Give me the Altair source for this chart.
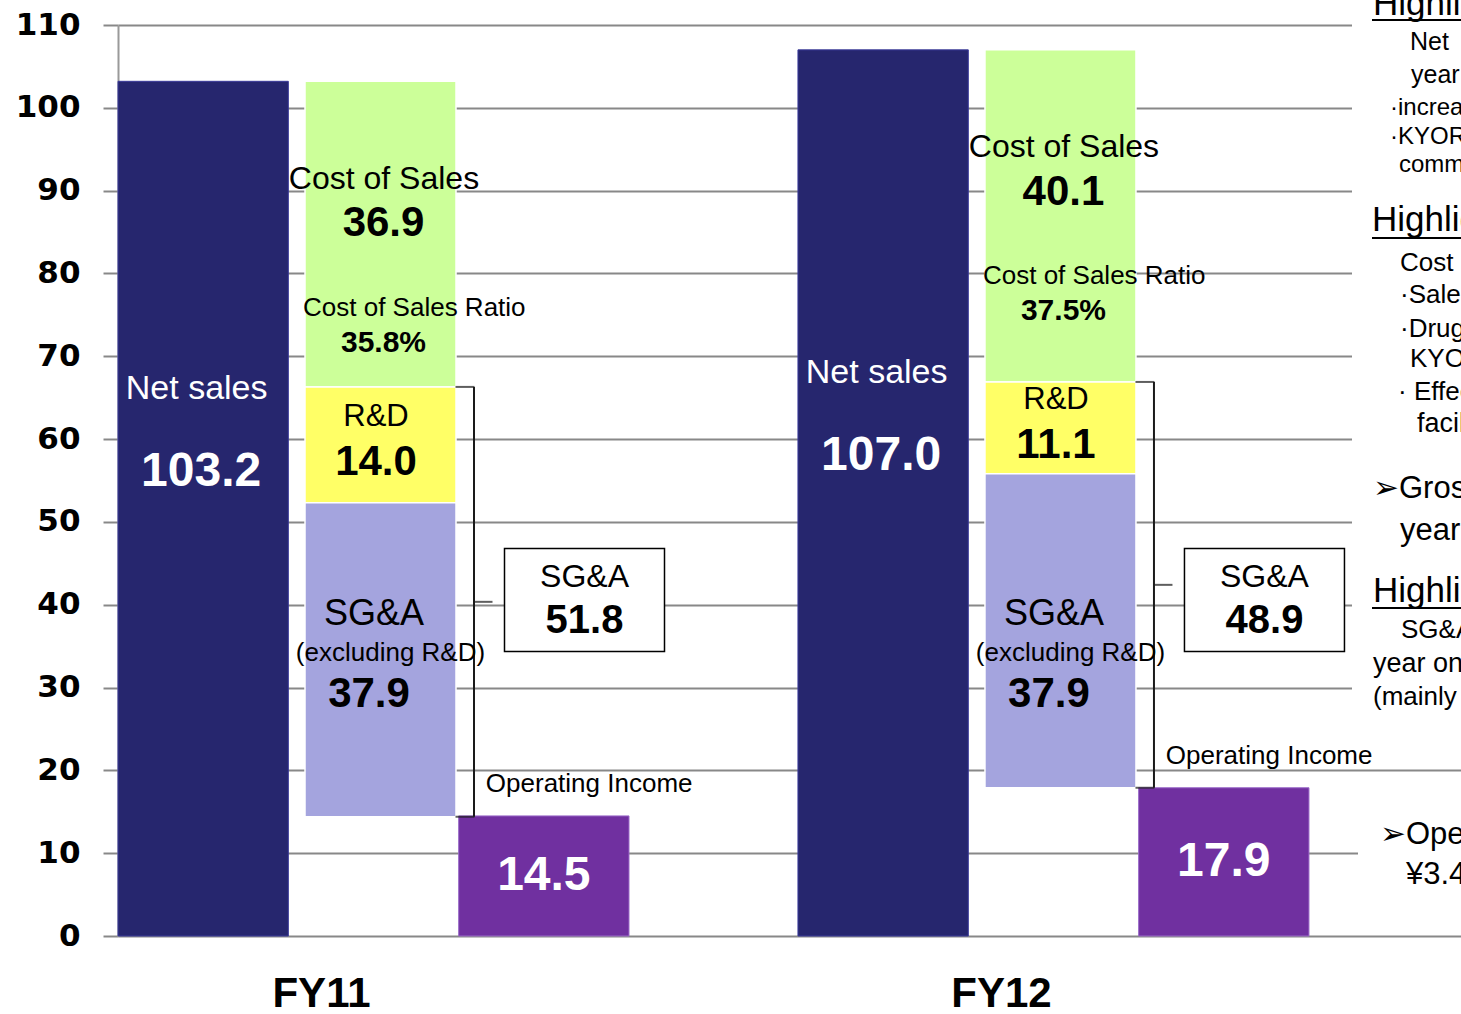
import altair as alt
import pandas as pd

# ---------------- data ----------------
years = ["FY11", "FY12"]
net_sales = [103.2, 107.0]
cost_of_sales = [36.9, 40.1]
r_and_d = [14.0, 11.1]
sga_excl_rd = [37.9, 37.9]
sga_total = [51.8, 48.9]
operating_income = [14.5, 17.9]
y_ticks = list(range(0, 111, 10))
components = ["Net sales", "Costs", "Operating income"]
segments = ["Cost of Sales", "R&D", "SG&A"]

# cropped text panel on the right of the slide
panel_text = ["Highlights", "Net", "year on year", "·increase", "·KYORIN", "commission",
              "Highlights", "Cost of Sales", "·Sales", "·Drug", "KYORIN", "· Effect", "facilities",
              "➢Gross", "year on year", "Highlights", "SG&A", "year on year", "(mainly",
              "➢Operating", "¥3.4"]
# (left px, centre px, font size) of each panel line
panel_layout = [(1373, 4, 35), (1410, 42, 25), (1411, 75, 25), (1390, 108, 24), (1390, 137, 24),
                (1399, 165, 24), (1372, 220, 35), (1400, 263, 26), (1400, 295, 26), (1400, 329, 26),
                (1410, 359, 26), (1398, 392, 26), (1417, 424, 27), (1373, 489, 31), (1400, 531, 31),
                (1373, 591, 35), (1401, 630, 26), (1373, 664, 27), (1373, 697, 26), (1380, 835, 31),
                (1406, 875, 31)]
underlines = [20, 238, 608]

# ---------------- styles ----------------
SANS = "Liberation Sans"
NAVY = "#26266E"
SEG_COLORS = ["#CCFF99", "#FFFF66", "#A4A4DE"]
PURPLE = "#7030A0"
PLOT_L, PLOT_T, W, H = 118, 25, 1343, 911
HALF = 255.5  # half of a year band: value offsets count from the band start

# ---------------- tables ----------------
df = pd.DataFrame({
    "year": years, "net": net_sales, "cost": cost_of_sales, "rd": r_and_d,
    "sga": sga_excl_rd, "sga_total": sga_total, "op": operating_income,
})
df["cost_bottom"] = df.net - df.cost
df["rd_bottom"] = df.cost_bottom - df.rd
df["sga_bottom"] = df.rd_bottom - df.sga
df["net_mid"] = df.net / 2
df["rd_mid"] = (df.cost_bottom + df.rd_bottom) / 2
df["op_mid"] = df.op / 2
df["brace_mid"] = (df.cost_bottom + df.sga_bottom) / 2
df["box_mid"] = df.sga + 2.67
df["box_top"] = df.box_mid + 6.22
df["box_bottom"] = df.box_mid - 6.22
df["net_lbl"] = df.net.map("{:.1f}".format)
df["cost_lbl"] = df.cost.map("{:.1f}".format)
df["ratio_lbl"] = (df.cost / df.net * 100).map("{:.1f}%".format)
df["rd_lbl"] = df.rd.map("{:.1f}".format)
df["sga_lbl"] = df.sga.map("{:.1f}".format)
df["sga_total_lbl"] = df.sga_total.map("{:.1f}".format)
df["op_lbl"] = df.op.map("{:.1f}".format)

rows = []
for i, yr in enumerate(years):
    top = net_sales[i]
    for name, val in zip(segments, [cost_of_sales[i], r_and_d[i], sga_excl_rd[i]]):
        rows.append({"year": yr, "seg": name, "top": top, "bottom": top - val})
        top -= val
seg_df = pd.DataFrame(rows)

net_df = df.assign(comp="Net sales")
op_df = df.assign(comp="Operating income")
one = pd.DataFrame({"k": [0]})

# ---------------- encodings ----------------
X = alt.X(
    "year:N",
    scale=alt.Scale(domain=years, paddingInner=0.2485, paddingOuter=0.1118, align=0),
    axis=alt.Axis(title=None, domain=False, ticks=False, grid=False, labelAngle=0,
                  labelFont=SANS, labelFontSize=42, labelFontWeight="bold", labelColor="black",
                  labelPadding=37, labelOffset=-52),
)
XO = alt.XOffset("comp:N", scale=alt.Scale(domain=components, paddingInner=0, paddingOuter=0))
YAXIS = alt.Axis(values=y_ticks, title=None, grid=True, gridColor="#888888", gridWidth=2,
                 tickSize=15, tickColor="#888888", tickWidth=2, domainColor="#9a9a9a",
                 domainWidth=2, labelFont="DejaVu Sans", labelFontSize=31,
                 labelFontWeight="bold", labelColor="black", labelPadding=23)


def Y(field):
    return alt.Y(f"{field}:Q", scale=alt.Scale(domain=[0, 110], nice=False, zero=False),
                 axis=YAXIS, title=None)


def off(v):
    return alt.value(HALF + v)


def label(data, text, yfield, size, dy=0, xoff=None, comp=False, dx=0,
          weight="normal", color="black", align="center"):
    enc = {"x": X, "y": Y(yfield), "text": text}
    enc["xOffset"] = XO if comp else off(xoff)
    return alt.Chart(data).mark_text(
        font=SANS, fontSize=size, fontWeight=weight, color=color, dx=dx, dy=dy,
        align=align, baseline="middle").encode(**enc)


layers = []

# bars
layers.append(alt.Chart(net_df).mark_bar(color=NAVY, stroke="#3a3a9a", strokeWidth=1)
              .encode(x=X, xOffset=XO, y=Y("net")))
layers.append(alt.Chart(seg_df).mark_bar(width=151, stroke="white", strokeWidth=1.5)
              .encode(x=X, xOffset=off(7), y=Y("top"), y2=alt.Y2("bottom"),
                      color=alt.Color("seg:N", scale=alt.Scale(domain=segments, range=SEG_COLORS),
                                      legend=None)))
layers.append(alt.Chart(op_df).mark_bar(color=PURPLE, stroke="#9a6ac8", strokeWidth=1)
              .encode(x=X, xOffset=XO, y=Y("op")))

# white boxes of the cropped text panel
layers.append(alt.Chart(one).mark_rect(color="white").encode(
    x=alt.value(1352 - PLOT_L), x2=alt.value(1520 - PLOT_L),
    y=alt.value(-PLOT_T - 5), y2=alt.value(740 - PLOT_T)))
layers.append(alt.Chart(one).mark_rect(color="white").encode(
    x=alt.value(1358 - PLOT_L), x2=alt.value(1520 - PLOT_L),
    y=alt.value(800 - PLOT_T), y2=alt.value(905 - PLOT_T)))

# braces
BR = "#1a1a1a"
layers.append(alt.Chart(df).mark_rule(color=BR, strokeWidth=2).encode(
    x=X, xOffset=off(100.5), y=Y("cost_bottom"), y2=alt.Y2("sga_bottom")))
for f in ["cost_bottom", "sga_bottom"]:
    layers.append(alt.Chart(df).mark_tick(color=BR, size=19, thickness=2, orient="horizontal")
                  .encode(x=X, xOffset=off(91.5), y=Y(f)))
layers.append(alt.Chart(df).mark_tick(color=BR, size=18, thickness=2, orient="horizontal")
              .encode(x=X, xOffset=off(110), y=Y("brace_mid")))

# SG&A total boxes
layers.append(alt.Chart(df).mark_bar(width=160, fill="white", stroke="black", strokeWidth=1.5)
              .encode(x=X, xOffset=off(211), y=Y("box_top"), y2=alt.Y2("box_bottom")))
layers.append(label(df, alt.value("SG&A"), "box_mid", 32, dy=-23.5, xoff=211))
layers.append(label(df, alt.Text("sga_total_lbl:N"), "box_mid", 40, dy=21, xoff=211, weight="bold"))

# net sales labels
layers.append(label(net_df, alt.value("Net sales"), "net_mid", 34, dy=-120, comp=True, dx=-6.5,
                    color="white"))
layers.append(label(net_df, alt.Text("net_lbl:N"), "net_mid", 48, dy=-37, comp=True, dx=-2,
                    color="white", weight="bold"))

# cost of sales labels
layers.append(label(df, alt.value("Cost of Sales"), "net", 32, dy=97.5, xoff=10.5))
layers.append(label(df, alt.Text("cost_lbl:N"), "net", 42, dy=142, xoff=10, weight="bold"))
layers.append(label(df, alt.value("Cost of Sales Ratio"), "net", 26, dy=226.5, xoff=-70.5,
                    align="left"))
layers.append(label(df, alt.Text("ratio_lbl:N"), "net", 30, dy=261.5, xoff=10, weight="bold"))

# R&D labels
layers.append(label(df, alt.value("R&D"), "rd_mid", 31, dy=-27.5, xoff=2.5))
layers.append(label(df, alt.Text("rd_lbl:N"), "rd_mid", 42, dy=17.5, xoff=2.5, weight="bold"))

# SG&A labels
layers.append(label(df, alt.value("SG&A"), "sga", 36, dy=-8, xoff=0.5))
layers.append(label(df, alt.value("(excluding R&D)"), "sga", 26, dy=31, xoff=17))
layers.append(label(df, alt.Text("sga_lbl:N"), "sga", 42, dy=72, xoff=-4.5, weight="bold"))

# operating income labels
layers.append(label(op_df, alt.value("Operating Income"), "op", 26, dy=-32, comp=True, dx=-58,
                    align="left"))
layers.append(label(op_df, alt.Text("op_lbl:N"), "op_mid", 48, comp=True, color="white",
                    weight="bold"))

# right text panel (cropped slide text)
for t, (px, py, fs) in zip(panel_text, panel_layout):
    layers.append(alt.Chart(one).mark_text(font=SANS, fontSize=fs, align="left", baseline="middle",
                                           color="black")
                  .encode(x=alt.value(px - PLOT_L), y=alt.value(py - PLOT_T), text=alt.value(t)))
for uy in underlines:
    layers.append(alt.Chart(one).mark_rule(color="black", strokeWidth=2).encode(
        x=alt.value(1372 - PLOT_L), x2=alt.value(1520 - PLOT_L), y=alt.value(uy - PLOT_T)))

chart = alt.layer(*layers).properties(
    width=W, height=H,
    autosize=alt.AutoSizeParams(type="none"),
    padding={"left": PLOT_L, "top": PLOT_T, "right": 0, "bottom": 1014 - PLOT_T - H},
    background="white",
).configure_view(stroke=None)

chart.save("out.html", embed_options={"renderer": "svg", "actions": False})
